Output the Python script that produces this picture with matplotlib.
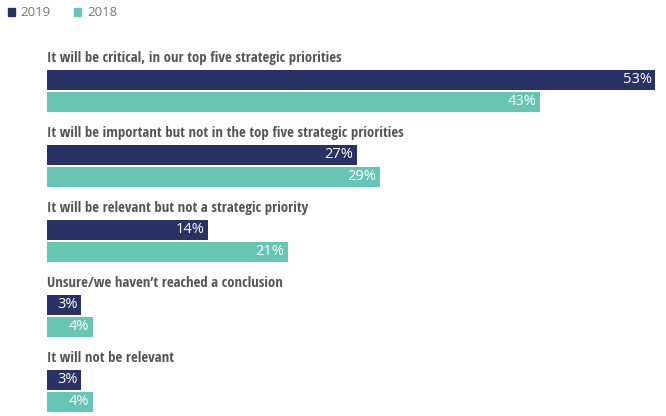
import matplotlib
matplotlib.use("Agg")
import matplotlib.pyplot as plt
from matplotlib.patches import Rectangle

categories = [
    "It will be critical, in our top five strategic priorities",
    "It will be important but not in the top five strategic priorities",
    "It will be relevant but not a strategic priority",
    "Unsure/we haven\u2019t reached a conclusion",
    "It will not be relevant",
]
values_2019 = [53, 27, 14, 3, 3]
values_2018 = [43, 29, 21, 4, 4]
series_names = ["2019", "2018"]

navy = "#283264"
teal = "#66c5b3"
label_color = "#555555"

W, H = 666, 416
fig = plt.figure(figsize=(W / 100, H / 100), dpi=100)
# axes: x from pixel 47 (0%) to 655 (53%), y in pixel units (top = 0)
ax = fig.add_axes([47 / W, 0, (655 - 47) / W, 1])
ax.set_xlim(0, 53)
ax.set_ylim(H, 0)
ax.axis("off")

bar_h = 20
for i, cat in enumerate(categories):
    y_dark = 79.5 + 75 * i
    y_teal = 101.5 + 75 * i
    ax.barh(y_dark, values_2019[i], height=bar_h, color=navy)
    ax.barh(y_teal, values_2018[i], height=bar_h, color=teal)
    ax.text(0, y_dark - 21.5, cat, ha="left", va="center", fontsize=10.6,
            fontweight="bold", color=label_color,
            family=["Open Sans Condensed", "Open Sans", "DejaVu Sans"])
    ax.text(values_2019[i] - 0.3, y_dark, f"{values_2019[i]}%", ha="right",
            va="center", fontsize=10.5, color="white", family="Open Sans")
    ax.text(values_2018[i] - 0.3, y_teal, f"{values_2018[i]}%", ha="right",
            va="center", fontsize=10.5, color="white", family="Open Sans")

# legend
fig.patches.append(Rectangle((8 / W, 1 - 16 / H), 7 / W, 8 / H,
                             transform=fig.transFigure, color=navy))
fig.text(20 / W, 1 - 12 / H, series_names[0], ha="left", va="center",
         fontsize=9.5, color="#777777", family="Open Sans")
fig.patches.append(Rectangle((74 / W, 1 - 16 / H), 7 / W, 8 / H,
                             transform=fig.transFigure, color=teal))
fig.text(87 / W, 1 - 12 / H, series_names[1], ha="left", va="center",
         fontsize=9.5, color="#777777", family="Open Sans")

fig.savefig("out.png", dpi=100)
